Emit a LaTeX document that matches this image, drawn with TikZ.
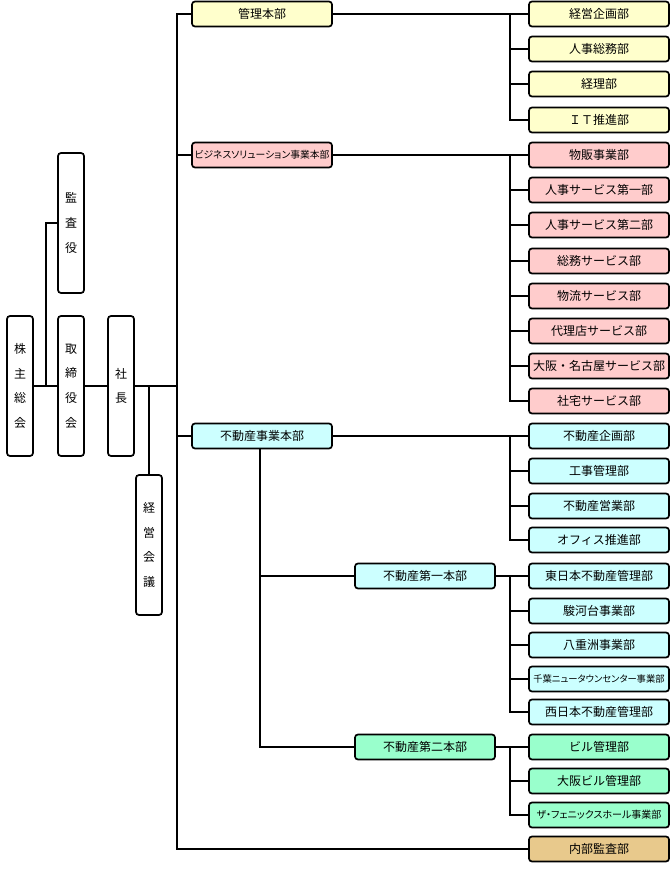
\documentclass[tikz,border=0pt]{standalone}
\usepackage{fontspec}
\setmainfont{Noto Sans CJK JP}
\newfontfamily\tsume[RawFeature=+palt]{Noto Sans CJK JP}
\definecolor{kiiro}{HTML}{FFFFCC}
\definecolor{momo}{HTML}{FFCCCC}
\definecolor{mizu}{HTML}{CCFFFF}
\definecolor{midori}{HTML}{99FFCC}
\definecolor{cha}{HTML}{E8C98C}
\begin{document}
\begin{tikzpicture}[x=1pt,y=-1pt,line width=2pt,
	bu/.style={draw,line width=1.7pt,rounded corners=3pt,minimum width=140pt,minimum height=25pt,inner sep=0pt,font=\fontsize{12}{14}\selectfont},
	hoso/.style={font=\tsume\fontsize{#1}{12}\selectfont},
	tate/.style={draw,line width=1.7pt,rounded corners=3pt,minimum width=26pt,minimum height=140pt,inner sep=0pt,align=center,font=\fontsize{12}{24.7}\selectfont}]
	\useasboundingbox (0,0) rectangle (670,875);
	% left side
	\node[tate] (kabu) at (20,386) {株\\主\\総\\会};
	\node[tate] (kansa) at (71,223) {監\\査\\役};
	\node[tate] (tori) at (71,386) {取\\締\\役\\会};
	\node[tate] (sha) at (121,386) {社\\長};
	\node[tate] (kaigi) at (149,545) {経\\営\\会\\議};
	% honbu
	\node[bu,fill=kiiro] (kanri) at (262,14) {管理本部};
	\node[bu,fill=momo,hoso=9.8] (biz) at (262,155) {ビジネスソリューション事業本部};
	\node[bu,fill=mizu] (fudo) at (262,436) {不動産事業本部};
	\node[bu,fill=mizu] (dai1) at (425,576) {不動産第一本部};
	\node[bu,fill=midori] (dai2) at (425,747) {不動産第二本部};
	% bu
	\foreach \n/\y/\c/\t in {k1/14/kiiro/経営企画部,k2/49/kiiro/人事総務部,k3/84/kiiro/経理部,k4/120/kiiro/ＩＴ推進部,
		b1/155/momo/物販事業部,b2/190/momo/人事サービス第一部,b3/225/momo/人事サービス第二部,b4/261/momo/総務サービス部,
		b5/296/momo/物流サービス部,b6/331/momo/代理店サービス部,b7/366/momo/大阪・名古屋サービス部,b8/401/momo/社宅サービス部,
		f1/436/mizu/不動産企画部,f2/471/mizu/工事管理部,f3/506/mizu/不動産営業部,f4/540/mizu/オフィス推進部,
		g1/576/mizu/東日本不動産管理部,g2/611/mizu/駿河台事業部,g3/645/mizu/八重洲事業部,g5/712/mizu/西日本不動産管理部,
		h1/747/midori/ビル管理部,h2/781/midori/大阪ビル管理部,naibu/849/cha/内部監査部}
	\node[bu,fill=\c] (\n) at (599,\y) {\t};
	\node[bu,fill=mizu,hoso=9.3] (g4) at (599,679) {千葉ニュータウンセンター事業部};
	\node[bu,fill=midori,hoso=10] (h3) at (599,815) {ザ・フェニックスホール事業部};
	% lines
	\draw (kabu) -- (tori) (tori) -- (sha);
	\draw (kabu.east) ++(12,0) |- (kansa.west);
	\draw (kaigi.north) |- (sha.east);
	\draw (sha.east) -- ++(43,0);
	\draw (kanri.west) -- ++(-14,0) |- (naibu.west);
	\draw (biz.west) -- ++(-14,0) (fudo.west) -- ++(-14,0);
	\draw (kanri) -- (k1) (biz) -- (b1) (fudo) -- (f1) (dai1) -- (g1) (dai2) -- (h1);
	\foreach \n in {k2,k3,k4}\draw (k1.west) ++(-18,0) |- (\n.west);
	\foreach \n in {b2,b3,b4,b5,b6,b7,b8}\draw (b1.west) ++(-18,0) |- (\n.west);
	\foreach \n in {f2,f3,f4}\draw (f1.west) ++(-18,0) |- (\n.west);
	\foreach \n in {g2,g3,g4,g5}\draw (g1.west) ++(-18,0) |- (\n.west);
	\foreach \n in {h2,h3}\draw (h1.west) ++(-18,0) |- (\n.west);
	\foreach \n in {dai1,dai2}\draw ([xshift=-2.5pt]fudo.south) |- (\n.west);
\end{tikzpicture}
\end{document}
